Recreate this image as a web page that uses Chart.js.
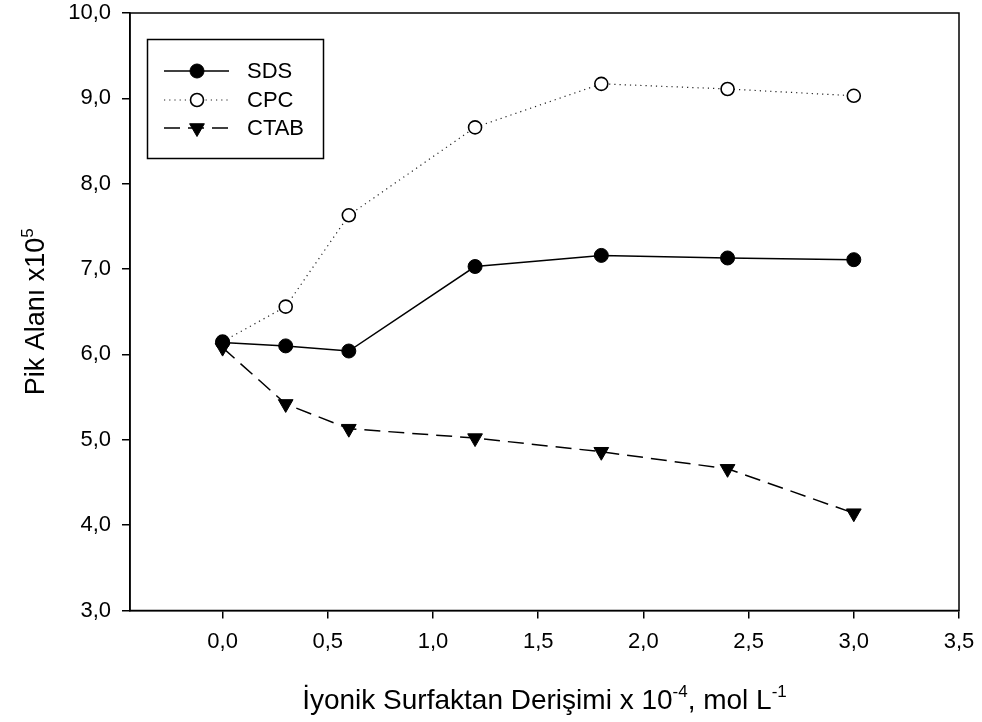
<!DOCTYPE html>
<html>
<head>
<meta charset="utf-8">
<script src="https://cdn.jsdelivr.net/npm/chart.js@4.4.1/dist/chart.umd.min.js"></script>
<style>
html,body{margin:0;padding:0;background:#fff;}
canvas{display:block;}
</style>
</head>
<body>
<canvas id="c" width="982" height="722"></canvas>
<script>
// ---- data ----
const concentrations = [0, 0.3, 0.6, 1.2, 1.8, 2.4, 3.0];
const sdsValues  = [6.14, 6.10, 6.04, 7.03, 7.16, 7.13, 7.11];
const cpcValues  = [6.15, 6.56, 7.63, 8.66, 9.17, 9.11, 9.03];
const ctabValues = [6.08, 5.42, 5.13, 5.02, 4.86, 4.66, 4.14];
const seriesNames = ['SDS', 'CPC', 'CTAB'];
const xTickValues = [0, 0.5, 1.0, 1.5, 2.0, 2.5, 3.0, 3.5];
const yTickValues = [3, 4, 5, 6, 7, 8, 9, 10];

const FONT = '"Liberation Sans", Arial, Helvetica, sans-serif';
const toPts = ys => concentrations.map((x, i) => ({x: x, y: ys[i]}));
const fmt = v => v.toFixed(1).replace('.', ',');

const datasets = [
  {label: seriesNames[0], data: toPts(sdsValues), borderColor: '#000', borderWidth: 1.5,
   pointStyle: 'circle', pointRadius: 7, pointBackgroundColor: '#000', pointBorderColor: '#000', pointBorderWidth: 1, borderDash: []},
  {label: seriesNames[1], data: toPts(cpcValues), borderColor: '#222', borderWidth: 1.2,
   pointStyle: 'circle', pointRadius: 6.5, pointBackgroundColor: '#fff', pointBorderColor: '#000', pointBorderWidth: 1.6, borderDash: [1.2, 4]},
  {label: seriesNames[2], data: toPts(ctabValues), borderColor: '#000', borderWidth: 1.5,
   pointStyle: 'triangle', pointRotation: 180, pointRadius: 8.5, pointBackgroundColor: '#000', pointBorderColor: '#000', pointBorderWidth: 1, borderDash: [16, 8]}
];
datasets.forEach(d => { d.fill = false; d.tension = 0; d.showLine = true; });

function drawRich(ctx, parts, size) {
  const supSize = Math.round(size * 0.62);
  let total = 0;
  parts.forEach(p => {
    ctx.font = (p.sup ? supSize : size) + 'px ' + FONT;
    p.w = ctx.measureText(p.t).width;
    total += p.w;
  });
  let x = -total / 2;
  ctx.textAlign = 'left';
  ctx.textBaseline = 'alphabetic';
  parts.forEach(p => {
    ctx.font = (p.sup ? supSize : size) + 'px ' + FONT;
    ctx.fillText(p.t, x, p.sup ? -size * 0.42 : 0);
    x += p.w;
  });
}

const framePlugin = {
  id: 'frame',
  afterDraw(chart) {
    const ctx = chart.ctx, a = chart.chartArea;
    ctx.save();
    ctx.strokeStyle = '#000';
    ctx.lineWidth = 1.5;
    ctx.setLineDash([]);
    ctx.strokeRect(a.left, a.top, a.right - a.left, a.bottom - a.top);

    // axis titles with superscripts
    ctx.fillStyle = '#000';
    ctx.save();
    ctx.translate((a.left + a.right) / 2, 709);
    drawRich(ctx, [{t: 'İyonik Surfaktan Derişimi x 10'}, {t: '-4', sup: true}, {t: ', mol L'}, {t: '-1', sup: true}], 28);
    ctx.restore();
    ctx.save();
    ctx.translate(44, (a.top + a.bottom) / 2);
    ctx.rotate(-Math.PI / 2);
    drawRich(ctx, [{t: 'Pik Alanı x10'}, {t: '5', sup: true}], 27);
    ctx.restore();

    // legend box
    const bx = 147.5, by = 39.5, bw = 176, bh = 119;
    ctx.lineWidth = 1.5;
    ctx.strokeRect(bx, by, bw, bh);
    const rowY = [71, 100, 128];
    chart.data.datasets.forEach((d, i) => {
      const y = rowY[i];
      ctx.save();
      ctx.strokeStyle = d.borderColor;
      ctx.lineWidth = d.borderWidth;
      ctx.setLineDash(d.borderDash || []);
      ctx.beginPath();
      ctx.moveTo(164, y);
      ctx.lineTo(229, y);
      ctx.stroke();
      ctx.setLineDash([]);
      ctx.fillStyle = d.pointBackgroundColor;
      ctx.strokeStyle = d.pointBorderColor;
      ctx.lineWidth = d.pointBorderWidth;
      Chart.helpers.drawPoint(ctx, {pointStyle: d.pointStyle, radius: d.pointRadius, borderWidth: d.pointBorderWidth, rotation: d.pointRotation || 0}, 197, y);
      ctx.restore();
      ctx.fillStyle = '#000';
      ctx.font = '22px ' + FONT;
      ctx.textAlign = 'left';
      ctx.textBaseline = 'middle';
      ctx.fillText(d.label, 247, y + 1);
    });
    ctx.restore();
  }
};

new Chart(document.getElementById('c'), {
  type: 'line',
  data: {datasets: datasets},
  plugins: [framePlugin],
  options: {
    responsive: false,
    animation: false,
    devicePixelRatio: 1,
    layout: {padding: {top: 13, right: 23, left: 0, bottom: 0}},
    plugins: {legend: {display: false}, tooltip: {enabled: false}},
    scales: {
      x: {
        type: 'linear', min: -0.44, max: 3.5,
        afterBuildTicks: s => { s.ticks = xTickValues.map(v => ({value: v})); },
        afterFit: s => { s.height = 111.5; s.paddingLeft = 0; s.paddingRight = 0; },
        grid: {drawOnChartArea: false, drawTicks: true, tickLength: 8, color: '#000', lineWidth: 1.5},
        border: {display: true, color: '#000', width: 1.5},
        ticks: {color: '#000', font: {family: FONT, size: 22}, padding: 10, maxRotation: 0, callback: v => fmt(v)}
      },
      y: {
        type: 'linear', min: 3, max: 10,
        afterBuildTicks: s => { s.ticks = yTickValues.map(v => ({value: v})); },
        afterFit: s => { s.width = 130; s.paddingTop = 0; s.paddingBottom = 0; },
        grid: {drawOnChartArea: false, drawTicks: true, tickLength: 8, color: '#000', lineWidth: 1.5},
        border: {display: true, color: '#000', width: 1.5},
        ticks: {color: '#000', font: {family: FONT, size: 22}, padding: 11, callback: v => fmt(v)}
      }
    }
  }
});
</script>
</body>
</html>
